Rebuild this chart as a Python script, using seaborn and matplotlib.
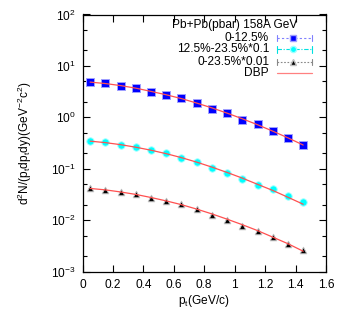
import numpy as np
import pandas as pd
import matplotlib
matplotlib.use("Agg")
import matplotlib.pyplot as plt
import matplotlib.ticker as mticker
import seaborn as sns

# data
pt = [0.05, 0.15, 0.25, 0.35, 0.45, 0.55, 0.65, 0.75, 0.85, 0.95, 1.05, 1.15, 1.25, 1.35, 1.45]
c0_125 = [4.93, 4.58, 4.0, 3.66, 3.1, 2.71, 2.34, 1.87, 1.45, 1.21, 0.885, 0.73, 0.548, 0.39, 0.289]
c125_235 = [0.346, 0.326, 0.293, 0.261, 0.231, 0.199, 0.164, 0.133, 0.105, 0.0815, 0.0639, 0.0489, 0.0397, 0.0299, 0.0222]
c0_235 = [0.0416, 0.0391, 0.0352, 0.0318, 0.0273, 0.0239, 0.0203, 0.0162, 0.01256, 0.01004, 0.00768, 0.00614, 0.00476, 0.00343, 0.00262]

fit_0_125 = [4.85, 4.55, 4.15, 3.7, 3.2, 2.75, 2.32, 1.9, 1.53, 1.21, 0.94, 0.72, 0.54, 0.40, 0.29]
fit_125_235 = [0.345, 0.323, 0.295, 0.263, 0.230, 0.197, 0.165, 0.135, 0.108, 0.085, 0.066, 0.050, 0.038, 0.028, 0.0205]
fit_0_235 = [0.0415, 0.039, 0.0355, 0.0318, 0.0277, 0.0238, 0.0201, 0.0165, 0.0133, 0.0105, 0.0082, 0.0063, 0.0047, 0.0035, 0.0025]

labels = ["0-12.5%", "12.5%-23.5%*0.1", "0-23.5%*0.01"]

sns.set_style("ticks")
plt.rcParams['font.family'] = ['Liberation Sans', 'DejaVu Sans']
plt.rcParams['mathtext.fontset'] = 'custom'
plt.rcParams['mathtext.rm'] = 'Liberation Sans'
plt.rcParams['mathtext.it'] = 'Liberation Sans'
for k in ['text.color', 'axes.labelcolor', 'xtick.color', 'ytick.color', 'axes.edgecolor']:
    plt.rcParams[k] = 'black'
fs = 8.6

fig = plt.figure(figsize=(3.46, 3.09), dpi=100)
ax = fig.add_axes([82.5 / 346, 1 - 271.7 / 309, 243.5 / 346, 257.2 / 309])

styles = [
    dict(marker="s", color="#0000ff", edge="#a0a0ff", s=26, lc="#8080ff", ls=(0, (2, 2))),
    dict(marker="o", color="#00ffff", edge="#a0ffff", s=28, lc="#00e0e0", ls=(0, (4, 1.5, 1, 1.5))),
    dict(marker="^", color="#000000", edge="#c0c0c0", s=22, lc="#888888", ls=(0, (1.5, 1.5))),
]
points = [c0_125, c125_235, c0_235]
fits = [fit_0_125, fit_125_235, fit_0_235]

for vals, st in zip(points, styles):
    df = pd.DataFrame({"pt": pt, "y": vals})
    sns.scatterplot(data=df, x="pt", y="y", ax=ax, marker=st["marker"], color=st["color"],
                    edgecolor=st["edge"], linewidth=0.7, s=st["s"], zorder=3)

for vals in fits:
    df = pd.DataFrame({"pt": pt, "y": vals})
    sns.lineplot(data=df, x="pt", y="y", ax=ax, color="#ff5050", lw=0.9, zorder=4)

ax.set_yscale("log")
ax.set_xlim(0, 1.6)
ax.set_ylim(1e-3, 1e2)
ax.xaxis.set_major_locator(mticker.MultipleLocator(0.2))
ax.xaxis.set_major_formatter(mticker.FuncFormatter(lambda v, p: "%g" % round(v, 1)))
ax.yaxis.set_major_locator(mticker.LogLocator(base=10, numticks=10))
ax.yaxis.set_minor_locator(mticker.LogLocator(base=10, subs=[2, 5], numticks=10))
ax.yaxis.set_minor_formatter(mticker.NullFormatter())
ax.tick_params(which="both", direction="in", top=True, right=True, labelsize=fs, width=0.8)
ax.tick_params(which="major", length=5, pad=5)
ax.tick_params(which="minor", length=3)
for sp in ax.spines.values():
    sp.set_linewidth(0.9)

ax.set_xlabel(r"p$_{\mathrm{t}}$(GeV/c)", fontsize=fs, labelpad=2)
ax.set_ylabel(r"d$^2$N/(p$_{\mathrm{t}}$dp$_{\mathrm{t}}$dy)(GeV$^{-2}$c$^2$)", fontsize=fs, labelpad=12)

# gnuplot-style key
ax.text(0.881, 0.959, "Pb+Pb(pbar) 158A GeV", transform=ax.transAxes, ha="right", va="center", fontsize=fs)
rows_y = [0.909, 0.864, 0.815]
for lab, st, yy in zip(labels, styles, rows_y):
    ax.text(0.766, yy, lab, transform=ax.transAxes, ha="right", va="center", fontsize=fs)
    ax.plot([0.799, 0.942], [yy, yy], transform=ax.transAxes, color=st["lc"], lw=0.8, ls=st["ls"])
    for xe in (0.799, 0.942):
        ax.plot([xe, xe], [yy - 0.012, yy + 0.012], transform=ax.transAxes, color=st["lc"], lw=0.8)
    ax.plot([0.864], [yy], transform=ax.transAxes, marker=st["marker"], color=st["color"],
            mec=st["edge"], ms=4.5 if st["marker"] != "^" else 4, ls="none")
ax.text(0.766, 0.773, "DBP", transform=ax.transAxes, ha="right", va="center", fontsize=fs)
ax.plot([0.799, 0.942], [0.773, 0.773], transform=ax.transAxes, color="#ff8080", lw=0.9)

fig.savefig("out.png", dpi=100)
